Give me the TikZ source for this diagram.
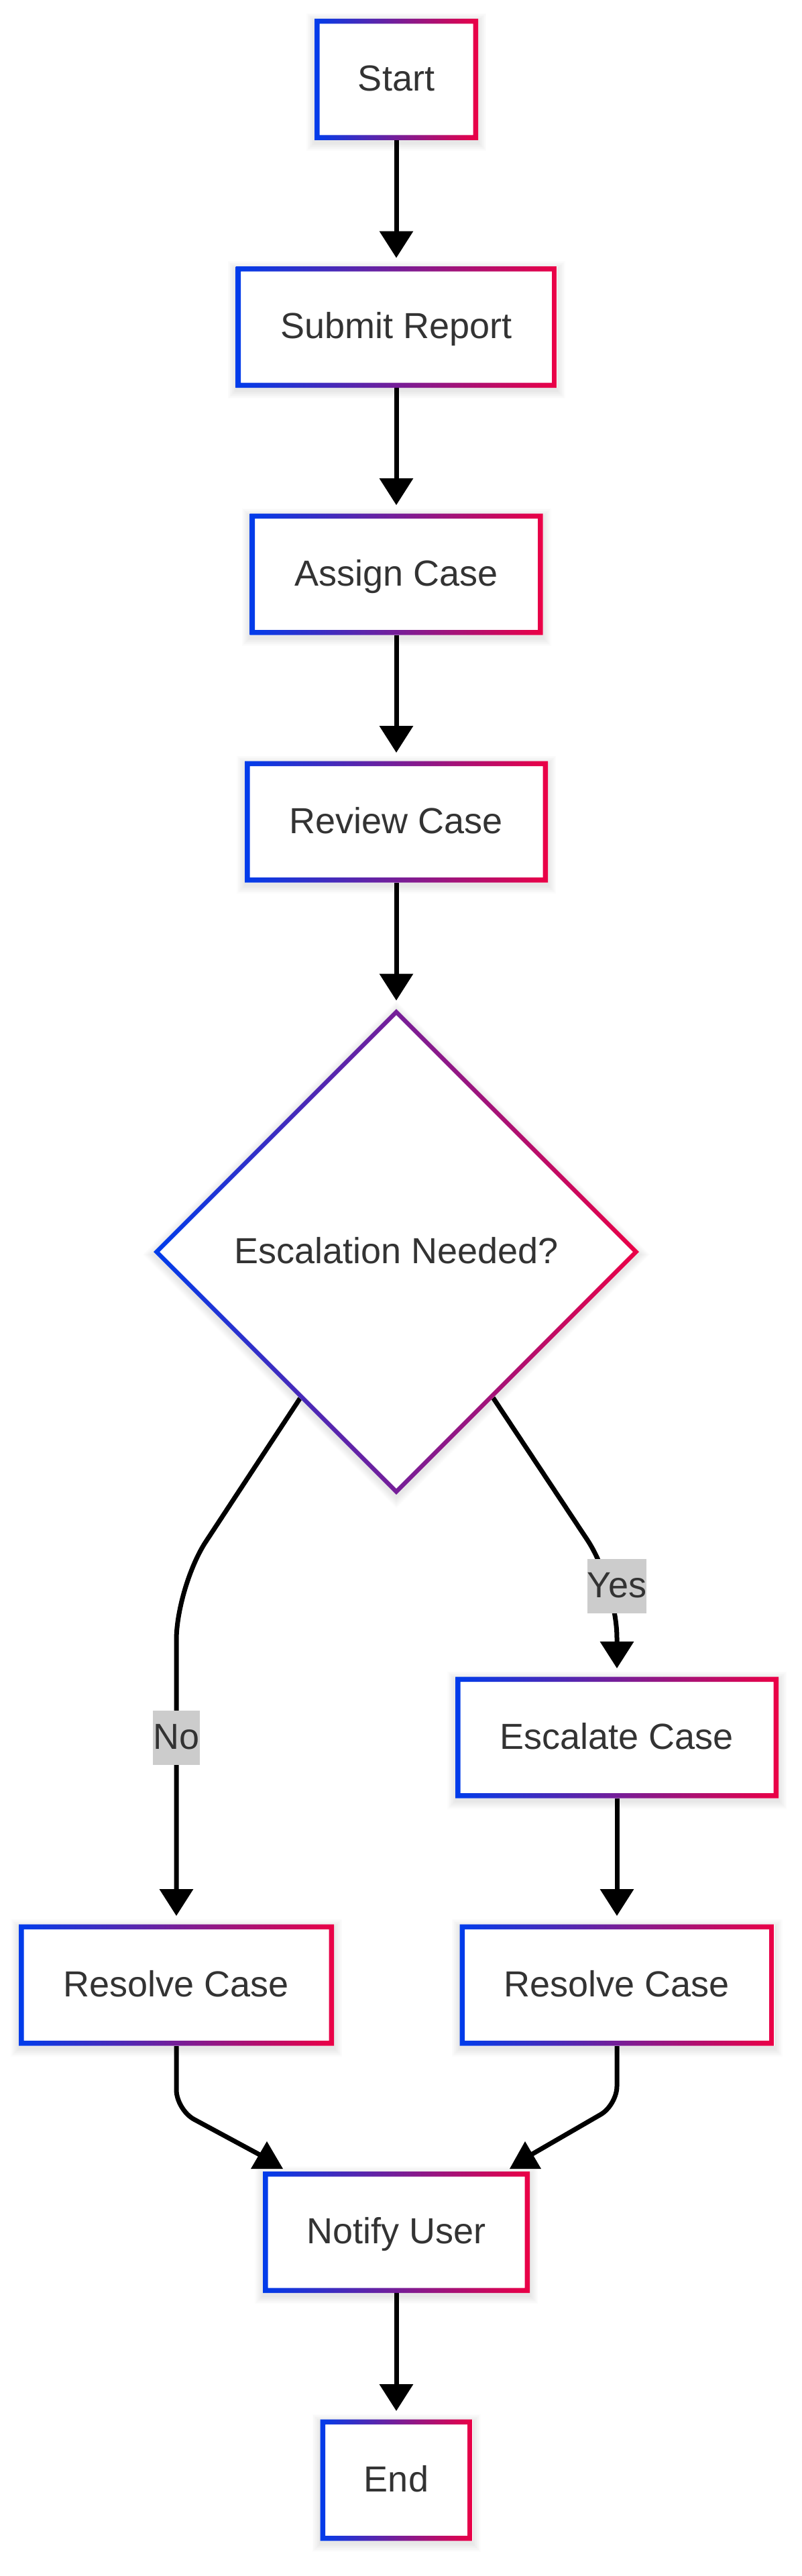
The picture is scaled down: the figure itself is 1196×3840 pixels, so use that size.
\documentclass[tikz,border=0pt]{standalone}
\usepackage{fontspec}
\setmainfont{Liberation Sans}
\usetikzlibrary{arrows.meta,shapes.geometric,calc}
\definecolor{cB}{RGB}{0,60,235}
\definecolor{cR}{RGB}{235,0,70}
\definecolor{cText}{HTML}{333333}
\definecolor{cLbl}{HTML}{CCCCCC}
\pgfdeclarelayer{shadow}
\pgfdeclarelayer{conns}
\pgfsetlayers{shadow,conns,main}
\tikzset{
  txt/.style={text=cText, font=\fontsize{54}{65}\selectfont, text height=40pt, text depth=6pt},
  boxnode/.style={txt, rectangle, fill=white, inner sep=0pt, outer sep=0pt, minimum height=181pt},
  dnode/.style={txt, diamond, aspect=1, fill=white, inner sep=0pt, outer sep=0pt, minimum width=724pt, minimum height=724pt},
  lbl/.style={txt, fill=cLbl, inner sep=0pt, outer sep=0pt, minimum height=81pt},
  line/.style={draw=black, line width=7pt},
  conn/.style={line, -{Triangle[length=40pt,width=49pt]}, shorten >=12.5pt},
  shadowfill/.style={fill=black, opacity=0.013},
  ring/.style={even odd rule, left color=cB, right color=cR},
}
\newcommand\gnode[5]{%
  \node[boxnode, minimum width=#4pt] (#1) at (#2,#3) {#5};
  \shade[ring] (#1.south west) rectangle (#1.north east)
    ([shift={(7.5pt,7.5pt)}]#1.south west) rectangle ([shift={(-7.5pt,-7.5pt)}]#1.north east);
  \begin{pgfonlayer}{shadow}
    \foreach \k in {1,...,8} {
      \fill[shadowfill] ([shift={(-\k*1.5pt,-\k*1.5pt-4pt)}]#1.south west) rectangle ([shift={(\k*1.5pt,\k*1.5pt-4pt)}]#1.north east);
    }
  \end{pgfonlayer}
}
\begin{document}
\begin{tikzpicture}[x=1pt,y=1pt]
\begin{pgfonlayer}{shadow}
  \fill[white] (0,0) rectangle (1196,-3840);
\end{pgfonlayer}
\useasboundingbox (0,0) rectangle (1196,-3840);

\gnode{start}{591}{-118.5}{244}{Start}
\gnode{submit}{591}{-487.5}{479}{Submit Report}
\gnode{assign}{591}{-856}{437}{Assign Case}
\gnode{review}{591}{-1225}{452}{Review Case}

\node[dnode] (dec) at (591,-1866) {Escalation Needed?};
\shade[ring] (dec.north) -- (dec.east) -- (dec.south) -- (dec.west) -- cycle
  ([yshift=-9pt]dec.north) -- ([xshift=-9pt]dec.east) -- ([yshift=9pt]dec.south) -- ([xshift=9pt]dec.west) -- cycle;
\begin{pgfonlayer}{shadow}
  \foreach \k in {1,...,8} {
    \fill[shadowfill] ([shift={(0pt,\k*2pt-4pt)}]dec.north) -- ([shift={(\k*2pt,-4pt)}]dec.east) -- ([shift={(0pt,-\k*2pt-4pt)}]dec.south) -- ([shift={(-\k*2pt,-4pt)}]dec.west) -- cycle;
  }
\end{pgfonlayer}

\gnode{esc}{920}{-2590}{482}{Escalate Case}
\gnode{resl}{263}{-2959}{470}{Resolve Case}
\gnode{resr}{920}{-2959}{469}{Resolve Case}
\gnode{notify}{591}{-3327.5}{398}{Notify User}
\gnode{end}{591}{-3697}{227}{End}

\coordinate (cl) at (263,-2365);
\coordinate (cr) at (920,-2362);
\coordinate (ml) at (263,-3145);
\coordinate (mle) at (391,-3214);
\coordinate (mr) at (920,-3138);
\coordinate (mre) at (792,-3212);

\begin{pgfonlayer}{conns}
  \draw[conn] (start) -- (submit);
  \draw[conn] (submit) -- (assign);
  \draw[conn] (assign) -- (review);
  \draw[conn] (review) -- (dec);
  \draw[conn, rounded corners=80pt] (dec) -- (cl) -- (resl);
  \draw[conn, rounded corners=80pt] (dec) -- (cr) -- (esc);
  \draw[conn] (esc) -- (resr);
  \draw[line, rounded corners=30pt] (resl) -- (ml) -- (mle);
  \draw[line, rounded corners=28pt] (resr) -- (mr) -- (mre);
  \draw[conn] (notify) -- (end);
\end{pgfonlayer}

\fill[black] (398,-3192) -- (374,-3233) -- (422,-3233) -- cycle;
\fill[black] (783,-3192) -- (760,-3233) -- (807,-3233) -- cycle;

\node[lbl] (no) at (263,-2590) {No};
\node[lbl] (yes) at (920,-2364) {Yes};
\end{tikzpicture}
\end{document}
